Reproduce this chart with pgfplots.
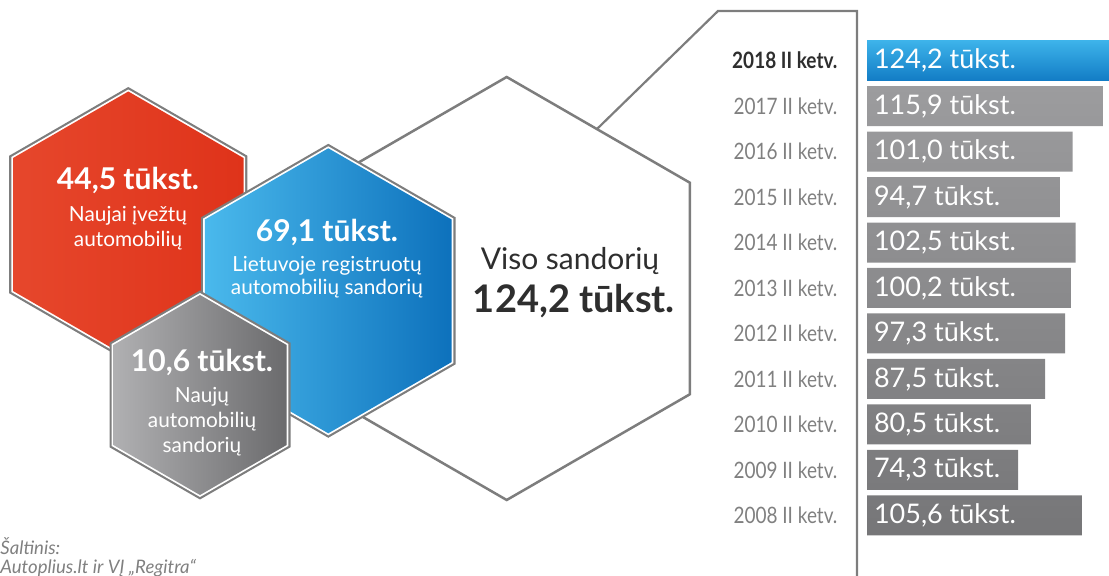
\documentclass[border=0pt]{standalone}
\usepackage{pgfplots}
\pgfplotsset{compat=1.18}
\usepackage{fontspec}
\setmainfont{Lato}
\newfontfamily\cond{Lato}[FakeStretch=0.84]
\newcommand\fs[1]{\fontsize{#1}{#1}\selectfont}
\definecolor{outl}{HTML}{7D7D7D}
\definecolor{redA}{HTML}{E6472C}
\definecolor{redB}{HTML}{DF331A}
\definecolor{blueA}{HTML}{4AB9EC}
\definecolor{blueB}{HTML}{0D71BC}
\definecolor{grayA}{HTML}{B0B0B2}
\definecolor{grayB}{HTML}{6B6B6D}
\definecolor{barT}{HTML}{9C9C9E}
\definecolor{barB}{HTML}{767678}
\definecolor{bbT}{HTML}{3DB3EA}
\definecolor{bbB}{HTML}{127CC5}
\definecolor{lab}{HTML}{808080}
\definecolor{dark}{HTML}{2E2E2E}
\begin{document}
\begin{tikzpicture}
\begin{axis}[at={(0pt,0pt)}, anchor=south west, width=554.5pt, height=288pt, scale only axis,
  xmin=0, xmax=1109, ymin=0, ymax=576, y dir=reverse, axis lines=none, clip=false]
% big white hexagon
\addplot[draw=outl, line width=1.25pt, fill=white, line join=miter] coordinates {(506.7,77) (689.9,182.75) (689.9,394.25) (506.7,500) (323.5,394.25) (323.5,182.75)} -- cycle;
% connector line
\addplot[draw=outl, line width=1.1pt] coordinates {(597,129) (718,11) (857,11) (857,576)};
% red hexagon
\addplot[draw=none, fill=outl] coordinates {(128.3,87) (247.4,155.75) (247.4,293.25) (128.3,362) (9.2,293.25) (9.2,155.75)} -- cycle;
\addplot[draw=none, fill=white] coordinates {(128.3,89.5) (245.2,157) (245.2,292) (128.3,359.5) (11.4,292) (11.4,157)} -- cycle;
\addplot[draw=none, left color=redA, right color=redB] coordinates {(128.3,91.5) (243.5,158) (243.5,291) (128.3,357.5) (13.1,291) (13.1,158)} -- cycle;
% blue hexagon
\addplot[draw=none, fill=outl] coordinates {(328.3,143.8) (455.6,217.3) (455.6,364.3) (328.3,437.8) (201,364.3) (201,217.3)} -- cycle;
\addplot[draw=none, fill=white] coordinates {(328.3,146.3) (453.4,218.55) (453.4,363.05) (328.3,435.3) (203.2,363.05) (203.2,218.55)} -- cycle;
\addplot[draw=none, left color=blueA, right color=blueB] coordinates {(328.3,148.3) (451.7,219.55) (451.7,362.05) (328.3,433.3) (204.9,362.05) (204.9,219.55)} -- cycle;
% gray hexagon
\addplot[draw=none, fill=outl] coordinates {(200,290.5) (290.5,342.75) (290.5,447.25) (200,499.5) (109.5,447.25) (109.5,342.75)} -- cycle;
\addplot[draw=none, fill=white] coordinates {(200,293) (288.3,344) (288.3,446) (200,497) (111.7,446) (111.7,344)} -- cycle;
\addplot[draw=none, left color=grayA, right color=grayB] coordinates {(200,295) (286.6,345) (286.6,445) (200,495) (113.4,445) (113.4,345)} -- cycle;
% texts
\node[anchor=base, white, font=\bfseries\fs{15pt}] at (axis cs:128,190) {44,5 tūkst.};
\node[anchor=base, white, font=\fs{10.4pt}] at (axis cs:128,221.5) {Naujai įvežtų};
\node[anchor=base, white, font=\fs{10.4pt}] at (axis cs:128,246.5) {automobilių};
\node[anchor=base, white, font=\bfseries\fs{15pt}] at (axis cs:327,241.5) {69,1 tūkst.};
\node[anchor=base, white, font=\fs{10.4pt}] at (axis cs:327,271.5) {Lietuvoje registruotų};
\node[anchor=base, white, font=\fs{10.4pt}] at (axis cs:327,295) {automobilių sandorių};
\node[anchor=base, white, font=\bfseries\fs{15pt}] at (axis cs:202,371.5) {10,6 tūkst.};
\node[anchor=base, white, font=\fs{10.4pt}] at (axis cs:202,403) {Naujų};
\node[anchor=base, white, font=\fs{10.4pt}] at (axis cs:202,428) {automobilių};
\node[anchor=base, white, font=\fs{10.4pt}] at (axis cs:202,453) {sandorių};
\node[anchor=base, dark, font=\fs{15pt}] at (axis cs:570,270) {Viso sandorių};
\node[anchor=base, dark, font=\bfseries\fs{19pt}] at (axis cs:574,313) {124,2 tūkst.};
\node[anchor=base west, lab, inner sep=0pt, font=\itshape\fs{9.3pt}] at (axis cs:0,555) {Šaltinis:};
\node[anchor=base west, lab, inner sep=0pt, font=\itshape\fs{9.3pt}] at (axis cs:0,574) {Autoplius.lt ir VĮ „Regitra“};
\end{axis}
\begin{axis}[at={(433.5pt,0pt)}, anchor=south west, width=121pt, height=288pt, scale only axis,
  xbar, bar shift=0pt, bar width=0.88, clip=false,
  xmin=0, xmax=118.9, ymin=-1.335, ymax=11.336, y dir=reverse,
  axis x line=none, axis y line*=left, y axis line style={draw=none},
  ytick={0,...,10}, ytick style={draw=none},
  yticklabels={{\color{dark}\bfseries 2018 II ketv.},2017 II ketv.,2016 II ketv.,2015 II ketv.,2014 II ketv.,2013 II ketv.,2012 II ketv.,2011 II ketv.,2010 II ketv.,2009 II ketv.,2008 II ketv.},
  yticklabel style={font=\cond\fs{11.3pt}, color=lab, xshift=-7pt},
  point meta=x,
  visualization depends on={x \as \rawx},
  nodes near coords={\pgfmathprintnumber[assume math mode=true, fixed, fixed zerofill, precision=1, use comma]{\pgfplotspointmeta}~tūkst.},
  every node near coord/.append style={anchor=west, shift={(axis direction cs:-\rawx,0)}, font=\fs{13.5pt}, color=white},
]
\addplot[draw=none, top color=bbT, bottom color=bbB] coordinates {(124.2,0)};
\addplot[draw=none, top color=barT, bottom color=barB] coordinates {(115.9,1) (101.0,2) (94.7,3) (102.5,4) (100.2,5) (97.3,6) (87.5,7) (80.5,8) (74.3,9) (105.6,10)};
\end{axis}
\pgfresetboundingbox
\path[use as bounding box] (0,0) rectangle (554.5pt,288pt);
\end{tikzpicture}
\end{document}
